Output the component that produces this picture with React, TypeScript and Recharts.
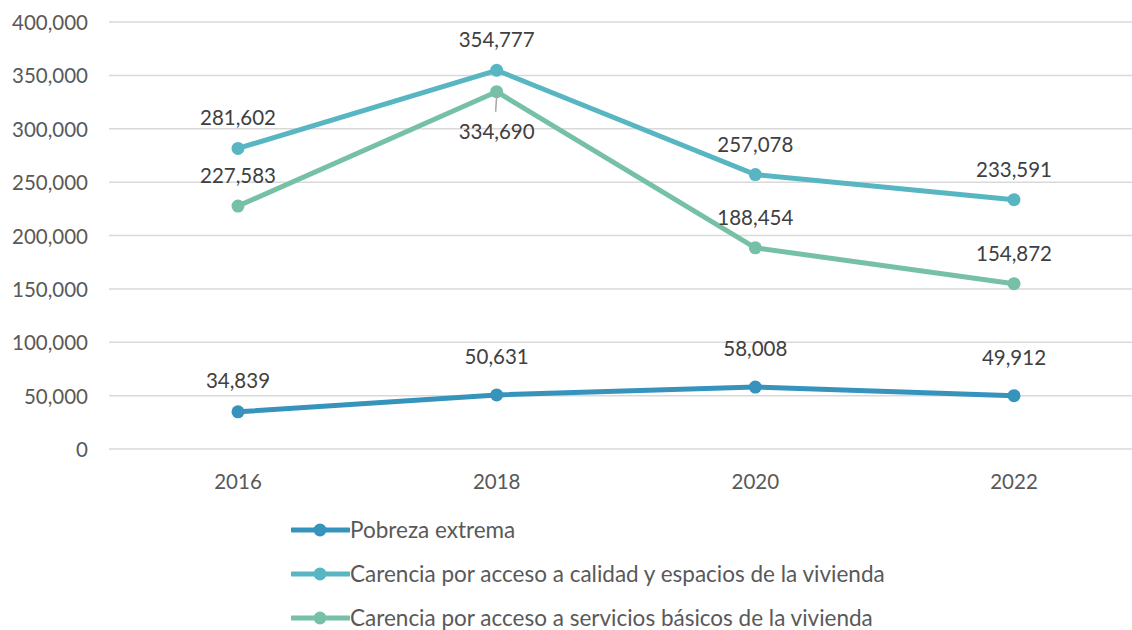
import { LineChart, Line, XAxis, YAxis, CartesianGrid, Legend, LabelList } from "recharts";

const years = ["2016", "2018", "2020", "2022"];
const pobrezaExtrema = [34839, 50631, 58008, 49912];
const carenciaCalidad = [281602, 354777, 257078, 233591];
const carenciaServicios = [227583, 334690, 188454, 154872];
const yTicks = [0, 50000, 100000, 150000, 200000, 250000, 300000, 350000, 400000];

const series = [
  { key: "pobreza", name: "Pobreza extrema", color: "#3693BC", values: pobrezaExtrema },
  { key: "calidad", name: "Carencia por acceso a calidad y espacios de la vivienda", color: "#58B6C3", values: carenciaCalidad },
  { key: "servicios", name: "Carencia por acceso a servicios básicos de la vivienda", color: "#76C0A6", values: carenciaServicios },
];

const data = years.map((year, i) => ({
  year,
  pobreza: pobrezaExtrema[i],
  calidad: carenciaCalidad[i],
  servicios: carenciaServicios[i],
}));

const fmt = (v: number) => v.toLocaleString("en-US");

const axisColor = "#595959";
const labelColor = "#404040";

const XTick = (props: any) => (
  <text x={props.x} y={props.y + 30} textAnchor="middle" dominantBaseline="central" fill={axisColor} fontSize={20.5}>
    {props.payload.value}
  </text>
);

const YTick = (props: any) => (
  <text x={88} y={props.y} textAnchor="end" dominantBaseline="central" fill={axisColor} fontSize={20.5}>
    {fmt(props.payload.value)}
  </text>
);

const makeLabel = (key: string) => (props: any) => {
  const { x, y, value, index } = props;
  if (key === "servicios" && index === 1) {
    return (
      <g>
        <line x1={x} y1={y + 4} x2={x - 1} y2={y + 20} stroke="#a6a6a6" strokeWidth={1.5} />
        <text x={x} y={y + 39} textAnchor="middle" dominantBaseline="central" fill={labelColor} fontSize={20.5}>
          {fmt(value)}
        </text>
      </g>
    );
  }
  const dy = key === "pobreza" ? (index === 0 ? 32 : 39) : 31;
  return (
    <text x={x} y={y - dy} textAnchor="middle" dominantBaseline="central" fill={labelColor} fontSize={20.5}>
      {fmt(value)}
    </text>
  );
};

const LegendContent = () => (
  <div style={{ display: "flex", flexDirection: "column" }}>
    {series.map((s) => (
      <div key={s.key} style={{ height: 44, display: "flex", alignItems: "center" }}>
        <svg width={59} height={16} style={{ display: "block" }}>
          <line x1={1} y1={8} x2={58} y2={8} stroke={s.color} strokeWidth={5} strokeLinecap="round" />
          <circle cx={29} cy={8} r={6.5} fill={s.color} />
        </svg>
        <span style={{ fontSize: 22.5, lineHeight: "26px", color: axisColor, whiteSpace: "nowrap" }}>{s.name}</span>
      </div>
    ))}
  </div>
);

export default function App() {
  return (
    <div
      style={{
        position: "fixed",
        top: 0,
        left: 0,
        width: 1132,
        height: 630,
        overflow: "hidden",
        background: "#fff",
        fontFamily: "Lato, sans-serif",
      }}
    >
      <LineChart width={1143} height={630} data={data} margin={{ top: 22, right: 0, left: 0, bottom: 141 }}>
        <CartesianGrid vertical={false} stroke="#d9d9d9" strokeWidth={1.5} />
        <XAxis
          dataKey="year"
          axisLine={false}
          tickLine={false}
          tickSize={0}
          height={40}
          padding={{ left: 129, right: 129 }}
          tick={<XTick />}
        />
        <YAxis
          domain={[0, 400000]}
          ticks={yTicks}
          axisLine={false}
          tickLine={false}
          tickSize={0}
          width={109}
          tick={<YTick />}
        />
        <Legend
          layout="vertical"
          align="center"
          verticalAlign="middle"
          wrapperStyle={{ top: 508, left: 291, width: 800 }}
          content={<LegendContent />}
        />
        {series.map((s) => (
          <Line
            key={s.key}
            dataKey={s.key}
            name={s.name}
            stroke={s.color}
            strokeWidth={5}
            dot={{ r: 6.5, fill: s.color, stroke: s.color, strokeWidth: 0 }}
            activeDot={false}
            isAnimationActive={false}
          >
            <LabelList dataKey={s.key} content={makeLabel(s.key)} />
          </Line>
        ))}
      </LineChart>
    </div>
  );
}
